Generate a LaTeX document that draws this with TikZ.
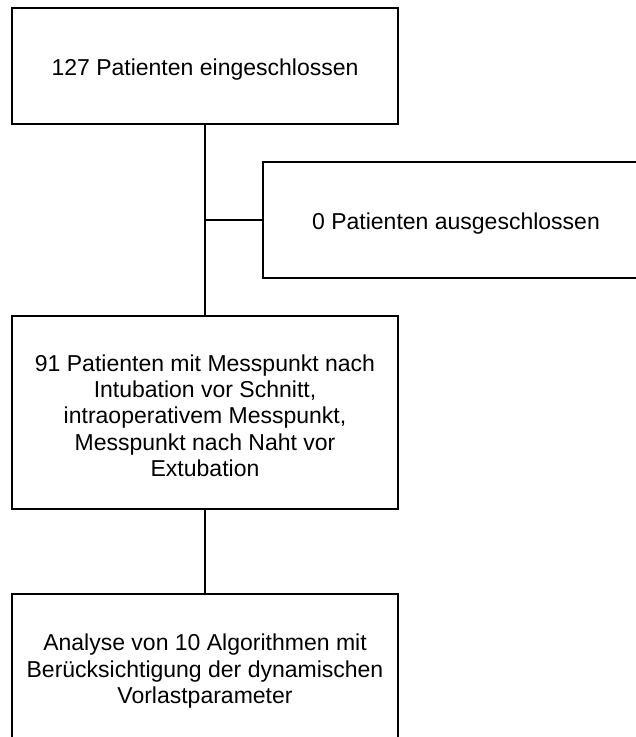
\documentclass[tikz,border=0pt]{standalone}
\usepackage{fontspec}
\setmainfont{Liberation Sans}
\newcommand\tupstrut{\rule{0pt}{23pt}}
\begin{document}
\begin{tikzpicture}[x=1pt,y=-1pt,
  flowbox/.style={draw=black, line width=1.2pt, rectangle, inner sep=0pt,
    minimum width=386pt, align=center, font=\fontsize{23}{26.3}\selectfont},
  link/.style={draw=black, line width=1.2pt}]
\useasboundingbox (0,0) rectangle (636,737);
\node[flowbox, minimum height=116pt] (a) at (205,66) {\tupstrut127 Patienten eingeschlossen};
\node[flowbox, minimum height=116pt] (b) at (456,220) {\tupstrut0 Patienten ausgeschlossen};
\node[flowbox, minimum height=193pt] (c) at (205,412.5) {\tupstrut91 Patienten mit Messpunkt nach\\Intubation vor Schnitt,\\intraoperativem Messpunkt,\\Messpunkt nach Naht vor\\Extubation};
\node[flowbox, minimum height=148pt] (d) at (205,668) {\tupstrut Analyse von 10 Algorithmen mit\\Berücksichtigung der dynamischen\\Vorlastparameter};
\coordinate (j) at (a.south |- b.west);
\draw[link] (a.south) -- (c.north);
\draw[link] (j) -- (b.west);
\draw[link] (c.south) -- (d.north);
\end{tikzpicture}
\end{document}
